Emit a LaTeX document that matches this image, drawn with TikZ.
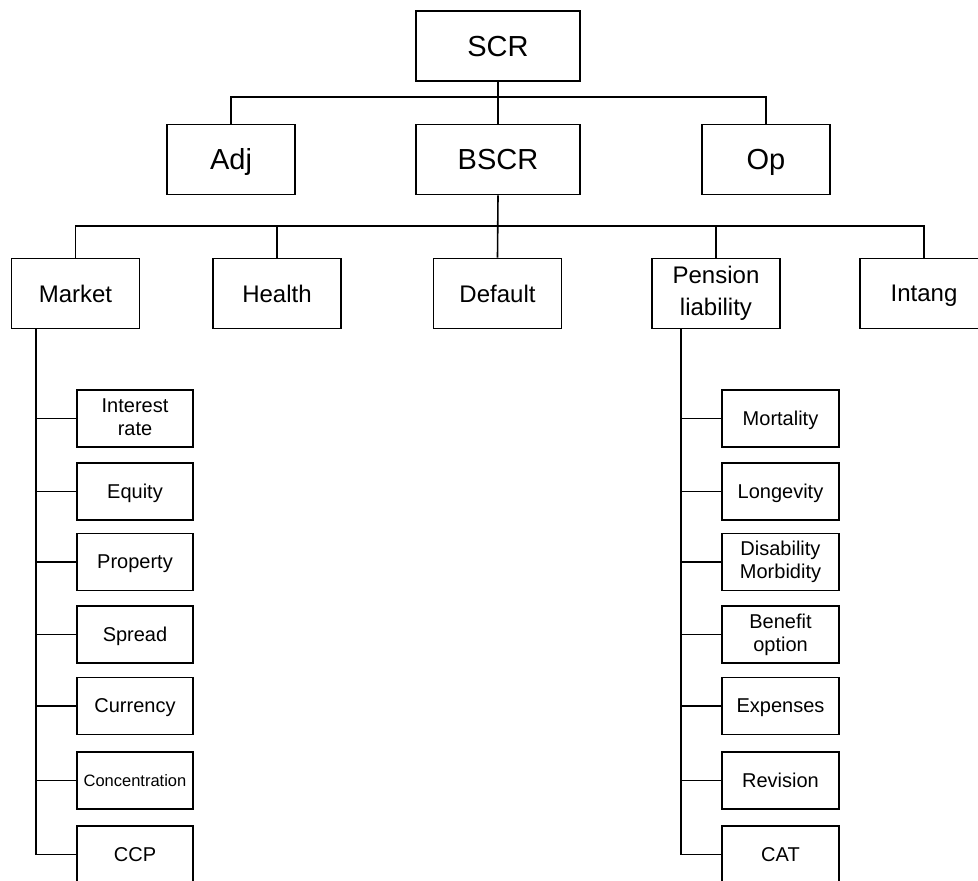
\documentclass[tikz,border=0pt]{standalone}
\usepackage{fontspec}
\setmainfont{Liberation Sans}
\usepackage{tikz}

\newcommand{\boxstrut}{\rule[-0.18em]{0pt}{1.08em}}

\begin{document}
\begin{tikzpicture}[x=1pt, y=1pt, line width=1.6pt,
  box/.style={draw, align=center, inner sep=0pt, minimum height=70pt,
    execute at begin node=\boxstrut, execute at end node=\boxstrut},
  topbox/.style={box, font=\fontsize{29}{34}\selectfont},
  midbox/.style={box, minimum width=128pt, font=\fontsize{24}{32}\selectfont},
  subbox/.style={box, minimum width=116pt, minimum height=57pt, font=\fontsize{20}{23}\selectfont}]

\useasboundingbox (0,0) rectangle (978,-881);

% top level
\node [topbox, minimum width=164pt] (scr) at (498,-46) {SCR};
\node [topbox, minimum width=128pt] (adj) at (231,-159.5) {Adj};
\node [topbox, minimum width=164pt] (bscr) at (498,-159.5) {BSCR};
\node [topbox, minimum width=128pt] (op) at (766,-159.5) {Op};

\draw (scr.south) to (bscr.north);
\draw (adj.north) -- ++(0,27) -| (op.north);

% modules
\node [midbox] (market) at (75.5,-293.5) {Market};
\node [midbox] (health) at (277,-293.5) {Health};
\node [midbox] (default) at (497.5,-293.5) {Default};
\node [midbox] (pension) at (716,-293.5) {Pension\\liability};
\node [midbox] (intang) at (924,-293.5) {Intang};

\draw (bscr.south) to (default.north);
\draw (market.north) -- ++(0,31.5) -| (intang.north);
\draw (health.north) to ++(0,31.5);
\draw (pension.north) to ++(0,31.5);

% market sub-modules
\node [subbox] (ir) at (135,-418.5) {Interest\\rate};
\node [subbox] (equity) at (135,-491.5) {Equity};
\node [subbox] (property) at (135,-562) {Property};
\node [subbox] (spread) at (135,-634.5) {Spread};
\node [subbox] (currency) at (135,-706) {Currency};
\node [subbox, font=\fontsize{16.5}{20}\selectfont] (conc) at (135,-780.5) {Concentration};
\node [subbox] (ccp) at (135,-854.5) {CCP};

\coordinate (mtrunk) at ([xshift=25pt]market.south west);
\draw (mtrunk) |- (ccp.west);
\draw (ir.west) to (ir.west -| mtrunk);
\draw (equity.west) to (equity.west -| mtrunk);
\draw (property.west) to (property.west -| mtrunk);
\draw (spread.west) to (spread.west -| mtrunk);
\draw (currency.west) to (currency.west -| mtrunk);
\draw (conc.west) to (conc.west -| mtrunk);

% pension sub-modules
\node [subbox, minimum width=117pt] (mort) at (780.5,-418.5) {Mortality};
\node [subbox, minimum width=117pt] (longev) at (780.5,-491.5) {Longevity};
\node [subbox, minimum width=117pt] (disab) at (780.5,-562) {Disability\\Morbidity};
\node [subbox, minimum width=117pt] (benefit) at (780.5,-634.5) {Benefit\\option};
\node [subbox, minimum width=117pt] (expenses) at (780.5,-706) {Expenses};
\node [subbox, minimum width=117pt] (revision) at (780.5,-780.5) {Revision};
\node [subbox, minimum width=117pt] (cat) at (780.5,-854.5) {CAT};

\coordinate (ptrunk) at ([xshift=30pt]pension.south west);
\draw (ptrunk) |- (cat.west);
\draw (mort.west) to (mort.west -| ptrunk);
\draw (longev.west) to (longev.west -| ptrunk);
\draw (disab.west) to (disab.west -| ptrunk);
\draw (benefit.west) to (benefit.west -| ptrunk);
\draw (expenses.west) to (expenses.west -| ptrunk);
\draw (revision.west) to (revision.west -| ptrunk);

\end{tikzpicture}
\end{document}
